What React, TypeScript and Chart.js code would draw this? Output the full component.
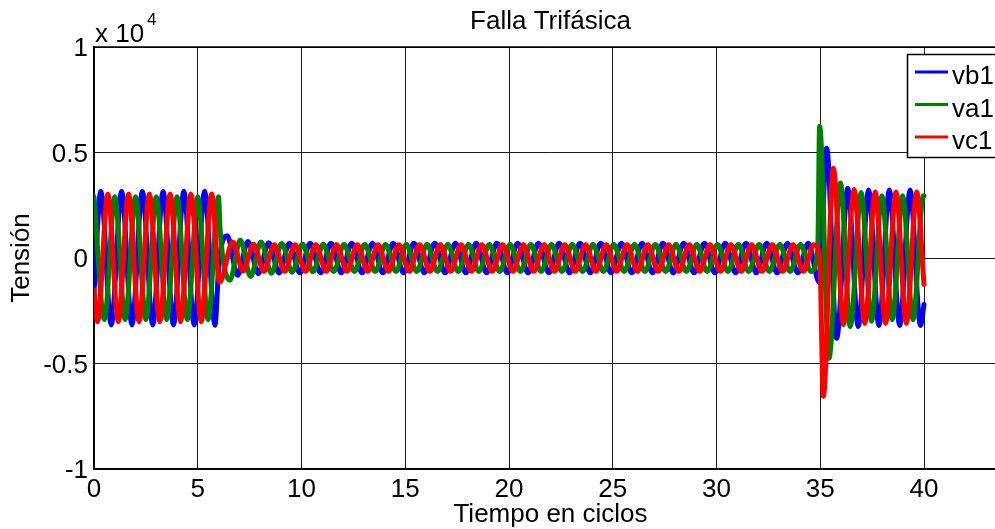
import React, { useEffect, useRef } from "react";
import { Chart, registerables } from "chart.js";

Chart.register(...registerables);

// Waveforms are stored as the peak/trough voltage of every half cycle.
// Regular runs start at a given time (in cycles) and advance half a cycle
// per value; the irregular points around fault inception and clearing are
// listed as [time, volts] pairs.
const HALF_CYCLE = 0.5;

// ---- phase a (va1) ----
const vaPreStart = 0;
const vaPre = [2900, -2920, 2900, -2920, 2900, -2920, 2900, -2920, 2900, -2920, 2900, -2920, 2900];
const vaFaultEntry = [[6.08, 1300]];
const vaFaultStart = 6.55;
const vaFault = [
  -1050, 850, -880, 760, -720, 690, -670, 660, -650, 650,
  -640, 640, -640, 640, -640, 640, -640, 640, -640, 640,
  -640, 640, -640, 640, -640, 640, -640, 640, -640, 640,
  -640, 640, -640, 640, -640, 640, -640, 640, -640, 640,
  -640, 640, -640, 640, -640, 640, -640, 640, -640, 640,
  -640, 640, -640, 640, -640, 640, -640,
];
const vaClearing = [[34.88, 450], [34.97, 6250], [35.42, -4750], [35.97, 3550], [36.45, -3250]];
const vaPostStart = 36.97;
const vaPost = [3100, -3000, 2950, -2930, 2950, -2930, 2950];
const vaTail = [[40, 2940]];

// ---- phase b (vb1) ----
const vbLead = [[0, -1580]];
const vbPreStart = 0.33;
const vbPre = [3160, -3170, 3160, -3170, 3160, -3170, 3160, -3170, 3160, -3170, 3160, -3190];
const vbFaultEntry = [[6.02, -300]];
const vbFaultStart = 6.42;
const vbFault = [
  1050, -820, 780, -740, 720, -710, 700, -700, 700, -700,
  700, -700, 700, -700, 700, -700, 700, -700, 700, -700,
  700, -700, 700, -700, 700, -700, 700, -700, 700, -700,
  700, -700, 700, -700, 700, -700, 700, -700, 700, -700,
  700, -700, 700, -700, 700, -700, 700, -700, 700, -700,
  700, -700, 700, -700, 700, -700, 700,
];
const vbClearing = [[34.95, -1150], [35.31, 5200], [35.79, -3800], [36.33, 3300], [36.83, -3250]];
const vbPostStart = 37.33;
const vbPost = [3220, -3200, 3220, -3200, 3220, -3200];
const vbTail = [[40, -2200]];

// ---- phase c (vc1) ----
const vcLead = [[0, -1500]];
const vcPreStart = 0.17;
const vcPre = [-3020, 3030, -3020, 3030, -3020, 3030, -3020, 3030, -3020, 3030, -3020, 3030];
const vcFaultEntry = [[6.05, -1150]];
const vcFaultStart = 6.69;
const vcFault = [
  760, -620, 650, -630, 630, -630, 630, -630, 630, -630,
  630, -630, 630, -630, 630, -630, 630, -630, 630, -630,
  630, -630, 630, -630, 630, -630, 630, -630, 630, -630,
  630, -630, 630, -630, 630, -630, 630, -630, 630, -630,
  630, -630, 630, -630, 630, -630, 630, -630, 630, -630,
  630, -630, 630, -630, 630, -630, 630,
];
const vcClearing = [[34.97, 150], [35.15, -6550], [35.63, 4250], [36.12, -3150], [36.63, 3250], [37.15, -3100]];
const vcPostStart = 37.65;
const vcPost = [3130, -3100, 3130, -3100, 3130];
const vcTail = [[40, -1250]];

// ---- axes ----
const xTicks = [0, 5, 10, 15, 20, 25, 30, 35, 40];
const xTickLabels = ["0", "5", "10", "15", "20", "25", "30", "35", "40"];
const yTicks = [-10000, -5000, 0, 5000, 10000];
const yTickLabels = ["-1", "-0.5", "0", "0.5", "1"];
const X_MAX = 44;

const TITLE = "Falla Trifásica";
const X_LABEL = "Tiempo en ciclos";
const Y_LABEL = "Tensión";

const seriesNames = ["vb1", "va1", "vc1"];
const seriesColors = ["#0000ff", "#008000", "#ff0000"];

const FONT = '"Liberation Sans", Arial, Helvetica, sans-serif';

type P = { x: number; y: number };
const run = (start: number, values: number[]): P[] =>
  values.map((y, i) => ({ x: start + i * HALF_CYCLE, y }));
const pairs = (list: number[][]): P[] => list.map(([x, y]) => ({ x, y }));
const join = (...parts: P[][]): P[] => parts.flat().sort((a, b) => a.x - b.x);

const vaData = join(
  run(vaPreStart, vaPre),
  pairs(vaFaultEntry),
  run(vaFaultStart, vaFault),
  pairs(vaClearing),
  run(vaPostStart, vaPost),
  pairs(vaTail)
);
const vbData = join(
  pairs(vbLead),
  run(vbPreStart, vbPre),
  pairs(vbFaultEntry),
  run(vbFaultStart, vbFault),
  pairs(vbClearing),
  run(vbPostStart, vbPost),
  pairs(vbTail)
);
const vcData = join(
  pairs(vcLead),
  run(vcPreStart, vcPre),
  pairs(vcFaultEntry),
  run(vcFaultStart, vcFault),
  pairs(vcClearing),
  run(vcPostStart, vcPost),
  pairs(vcTail)
);

const CANVAS_W = 1015;
const CANVAS_H = 529;

const decorations = {
  id: "decorations",
  afterDraw(chart: any) {
    const { ctx, chartArea, scales } = chart;
    const { left, right, top, bottom } = chartArea;
    const cx = (left + right) / 2;
    ctx.save();
    ctx.fillStyle = "#000";
    ctx.strokeStyle = "#000";

    // top and right edges of the axes box
    ctx.lineWidth = 1.5;
    ctx.beginPath();
    ctx.moveTo(left, top);
    ctx.lineTo(right, top);
    ctx.lineTo(right, bottom);
    ctx.stroke();

    ctx.font = `26px ${FONT}`;
    ctx.textBaseline = "alphabetic";

    // title and axis titles
    ctx.textAlign = "center";
    ctx.fillText(TITLE, cx, 29);
    ctx.fillText(X_LABEL, cx, 522);
    ctx.save();
    ctx.translate(29, (top + bottom) / 2);
    ctx.rotate(-Math.PI / 2);
    ctx.fillText(Y_LABEL, 0, 0);
    ctx.restore();

    // tick labels
    xTicks.forEach((v, i) => {
      ctx.textAlign = "center";
      ctx.fillText(xTickLabels[i], scales.x.getPixelForValue(v), 497);
    });
    yTicks.forEach((v, i) => {
      ctx.textAlign = "right";
      ctx.fillText(yTickLabels[i], left - 6, scales.y.getPixelForValue(v) + 9);
    });

    // exponent
    ctx.textAlign = "left";
    ctx.fillText("x 10", left + 1, 42);
    ctx.font = `17px ${FONT}`;
    ctx.fillText("4", left + 53, 25);

    // legend
    const lx = 907;
    const ly = 54;
    const lw = 100;
    const lh = 103;
    ctx.fillStyle = "#fff";
    ctx.fillRect(lx, ly, lw, lh);
    ctx.lineWidth = 1.5;
    ctx.strokeStyle = "#000";
    ctx.strokeRect(lx + 0.5, ly + 0.5, lw, lh);
    ctx.font = `26px ${FONT}`;
    ctx.textAlign = "left";
    seriesNames.forEach((name, i) => {
      const y = ly + 18 + i * 32.5;
      ctx.strokeStyle = seriesColors[i];
      ctx.lineWidth = 3;
      ctx.beginPath();
      ctx.moveTo(lx + 8, y);
      ctx.lineTo(lx + 41, y);
      ctx.stroke();
      ctx.fillStyle = "#000";
      ctx.fillText(name, lx + 45, y + 12);
    });
    ctx.restore();
  },
};

export default function App() {
  const canvasRef = useRef<HTMLCanvasElement | null>(null);

  useEffect(() => {
    const canvas = canvasRef.current;
    if (!canvas) return;
    const line = (label: string, data: P[], color: string, order: number) => ({
      label,
      data,
      borderColor: color,
      backgroundColor: color,
      borderWidth: 5,
      pointRadius: 0,
      fill: false,
      cubicInterpolationMode: "monotone" as const,
      borderCapStyle: "round" as const,
      borderJoinStyle: "round" as const,
      order,
    });
    const chart = new Chart(canvas, {
      type: "line",
      data: {
        datasets: [
          line(seriesNames[0], vbData, seriesColors[0], 2),
          line(seriesNames[1], vaData, seriesColors[1], 1),
          line(seriesNames[2], vcData, seriesColors[2], 0),
        ],
      },
      options: {
        animation: false,
        responsive: false,
        devicePixelRatio: 1,
        events: [],
        layout: { padding: { left: 0, top: 47, right: CANVAS_W - 1007, bottom: 0 } },
        plugins: {
          legend: { display: false },
          tooltip: { enabled: false },
          title: { display: false },
        },
        scales: {
          x: {
            type: "linear",
            min: 0,
            max: X_MAX,
            afterBuildTicks: (s: any) => {
              s.ticks = xTicks.map((value) => ({ value }));
            },
            afterFit: (s: any) => {
              s.height = CANVAS_H - 469;
            },
            ticks: { display: false },
            grid: { color: "#1a1a1a", lineWidth: 1, drawTicks: false },
            border: { display: true, color: "#000", width: 1.5 },
          },
          y: {
            type: "linear",
            min: -10000,
            max: 10000,
            afterBuildTicks: (s: any) => {
              s.ticks = yTicks.map((value) => ({ value }));
            },
            afterFit: (s: any) => {
              s.width = 94;
            },
            ticks: { display: false },
            grid: { color: "#1a1a1a", lineWidth: 1, drawTicks: false },
            border: { display: true, color: "#000", width: 1.5 },
          },
        },
      },
      plugins: [decorations],
    });
    return () => chart.destroy();
  }, []);

  return (
    <div
      style={{
        position: "fixed",
        left: 0,
        top: 0,
        width: 995,
        height: 529,
        overflow: "hidden",
        background: "#fff",
      }}
    >
      <canvas
        ref={canvasRef}
        width={CANVAS_W}
        height={CANVAS_H}
        style={{ display: "block", width: CANVAS_W, height: CANVAS_H }}
      />
    </div>
  );
}
